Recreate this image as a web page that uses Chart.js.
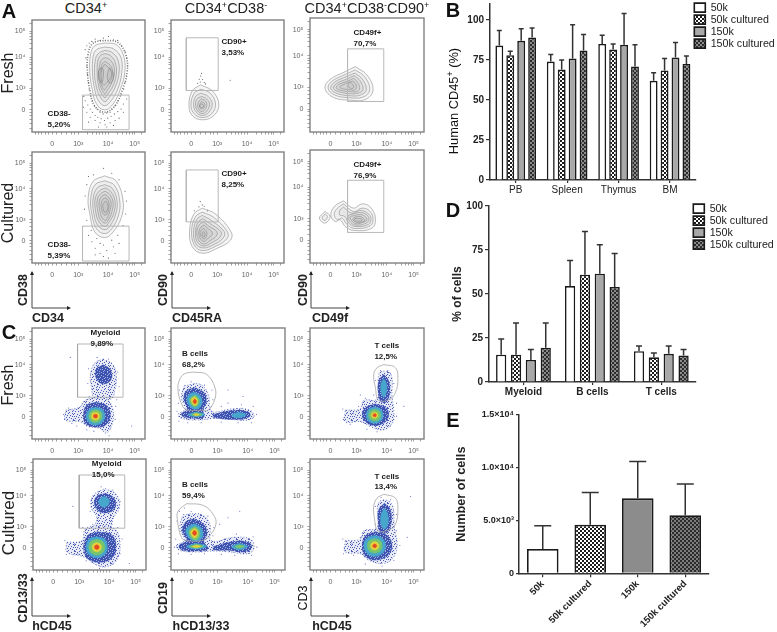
<!DOCTYPE html>
<html>
<head>
<meta charset="utf-8">
<script src="https://cdn.jsdelivr.net/npm/chart.js@4"></script>
<style>
  html, body { margin: 0; background: #fff; }
  body { position: relative; width: 777px; height: 632px; overflow: hidden; font-family: "Liberation Sans", Arial, sans-serif; color: #222; }
  canvas { position: absolute; }
  .t { position: absolute; white-space: nowrap; transform: translate(-50%, -50%); line-height: 1; z-index: 2; }
  .v { transform: translate(-50%, -50%) rotate(-90deg); }
  .letter { font-weight: bold; font-size: 20px; color: #111; }
  .title { font-size: 14.5px; }
  .row { font-size: 16px; }
  .ax { font-weight: bold; font-size: 12.5px; }
  sup { font-size: 9px; line-height: 0; vertical-align: 5px; }
  svg { position: absolute; left: 0; top: 0; }
</style>
</head>
<body>
<svg width="777" height="632" id="arrows"></svg>

<div class="t letter" style="left:9px;top:11px">A</div>
<div class="t letter" style="left:9px;top:332px">C</div>
<div class="t letter" style="left:453px;top:10px">B</div>
<div class="t letter" style="left:453px;top:210px">D</div>
<div class="t letter" style="left:453px;top:420px">E</div>

<div class="t title" style="left:86px;top:8px">CD34<sup>+</sup></div>
<div class="t title" style="left:226px;top:8px">CD34<sup>+</sup>CD38<sup>-</sup></div>
<div class="t title" style="left:367px;top:8px">CD34<sup>+</sup>CD38<sup>-</sup>CD90<sup>+</sup></div>

<div class="t v row" style="left:8px;top:73px">Fresh</div>
<div class="t v row" style="left:8px;top:213px">Cultured</div>
<div class="t v row" style="left:8px;top:385px">Fresh</div>
<div class="t v row" style="left:8px;top:523px;font-size:17px">Cultured</div>

<div class="t v ax" style="left:23px;top:290px">CD38</div>
<div class="t v ax" style="left:163px;top:290px">CD90</div>
<div class="t v ax" style="left:303px;top:290px">CD90</div>
<div class="t ax" style="left:48px;top:318px">CD34</div>
<div class="t ax" style="left:197px;top:318px">CD45RA</div>
<div class="t ax" style="left:330px;top:318px">CD49f</div>

<div class="t v ax" style="left:23px;top:598px">CD13/33</div>
<div class="t v ax" style="left:163px;top:598px">CD19</div>
<div class="t v ax" style="left:303px;top:598px;color:#111;font-weight:normal">CD3</div>
<div class="t ax" style="left:52px;top:626px">hCD45</div>
<div class="t ax" style="left:201px;top:626px">hCD13/33</div>
<div class="t ax" style="left:332px;top:626px">hCD45</div>

<div class="t v" style="left:454px;top:101px;font-size:12.8px;color:#111">Human CD45<sup>+</sup> (%)</div>

<script>
// ---- bar chart data ----
const seriesNames = ['50k', '50k cultured', '150k', '150k cultured'];

const organs = ['PB', 'Spleen', 'Thymus', 'BM'];
const organ50k = [84, 74, 85, 62];
const organ50kCultured = [78, 69, 81.5, 68.5];
const organ150k = [87, 76, 84.5, 76.5];
const organ150kCultured = [89, 81, 71, 72.5];
const organ50kTop = [93.5, 78.5, 90.5, 67];
const organ50kCulturedTop = [80.5, 75, 85, 76];
const organ150kTop = [94.5, 97, 104, 86];
const organ150kCulturedTop = [95, 91, 84.5, 77.5];

const lineages = ['Myeloid', 'B cells', 'T cells'];
const lineage50k = [15.5, 54.5, 17.5];
const lineage50kCultured = [15.5, 61, 14];
const lineage150k = [12.5, 61.5, 16];
const lineage150kCultured = [19.5, 54, 15];
const lineage50kTop = [24.5, 69, 20.5];
const lineage50kCulturedTop = [33.5, 85.5, 16.5];
const lineage150kTop = [18.5, 78, 20.5];
const lineage150kCulturedTop = [33.5, 73, 18.5];

const cellCounts = [2300, 4600, 7100, 5500];
const cellCountTops = [4500, 7650, 10600, 8450];
const cellTickValues = [0, 5000, 10000, 15000];
const cellTickLabels = ['0', '5.0×10³', '1.0×10⁴', '1.5×10⁴'];

// ---- flow axes, in display channels (0-340 on both axes) ----
const flowTickLabels = ['0', '10³', '10⁴', '10⁵'];
const flowXTicks = [61, 139, 229, 309];
const flowYTicks = [68, 133, 227, 305];
const flowXMinor = [10, 20, 30, 40, 50, 75, 90, 105, 118, 128, 166, 182, 194, 204, 212, 220, 256, 272, 284, 294, 302, 330];
const flowYMinor = [12, 25, 38, 50, 60, 85, 100, 112, 125, 160, 178, 192, 204, 212, 220, 254, 270, 282, 291, 299, 330];

// ---- gates ----
const gateA1 = [[152, 7], [292, 7], [292, 112], [152, 112]];
const gateA2 = [[46, 126], [142, 126], [142, 286], [46, 286]];
const gateA3 = [[112, 91], [220, 91], [220, 248], [112, 248]];
const gateA4 = [[152, 6], [292, 6], [292, 113], [152, 113]];
const gateA5 = [[46, 126], [142, 126], [142, 285], [46, 285]];
const gateA6 = [[112, 92], [220, 92], [220, 249], [112, 249]];
const gateC1 = [[137, 128], [274, 128], [274, 291], [137, 291]];
const gateC2 = [[66, 205], [106, 198], [131, 158], [131, 123], [111, 88], [91, 88], [51, 88], [36, 98], [21, 148], [26, 183], [41, 200]];
const gateC3 = [[220, 228], [255, 218], [262, 178], [255, 143], [240, 123], [205, 118], [195, 158], [190, 198], [200, 218]];
const gateC4 = [[139, 128], [276, 128], [276, 291], [139, 291]];
const gateC5 = [[46, 203], [96, 198], [126, 170], [134, 140], [111, 100], [91, 90], [46, 90], [31, 100], [19, 155], [21, 180]];
const gateC6 = [[220, 232], [255, 220], [262, 180], [255, 140], [240, 125], [203, 120], [192, 160], [190, 195], [200, 220]];

// gate label: name, percent, x, y of the name, y of the percent
const labelA1 = ['CD38-', '5,20%', 47, 55, 23];
const labelA2 = ['CD90+', '3,53%', 152, 273, 240];
const labelA3 = ['CD49f+', '70,7%', 130, 295, 263];
const labelA4 = ['CD38-', '5,39%', 47, 55, 23];
const labelA5 = ['CD90+', '8,25%', 152, 273, 240];
const labelA6 = ['CD49f+', '76,9%', 130, 295, 263];
const labelC1 = ['Myeloid', '9,89%', 176, 325, 292];
const labelC2 = ['B cells', '68,2%', 33, 261, 228];
const labelC3 = ['T cells', '12,5%', 192, 286, 253];
const labelC4 = ['Myeloid', '15,0%', 177, 325, 292];
const labelC5 = ['B cells', '59,4%', 33, 260, 227];
const labelC6 = ['T cells', '13,4%', 192, 287, 254];

// ---- contour rings ----
const contoursA1 = [
  [[219, 270], [254, 265], [276, 230], [279, 180], [266, 130], [244, 85], [219, 67], [194, 85], [181, 130], [174, 180], [176, 235], [189, 262]],
  [[219, 258], [246, 252], [268, 225], [270, 180], [258, 130], [238, 95], [219, 80], [200, 95], [188, 132], [182, 180], [184, 230], [194, 250]],
  [[220, 248], [240, 242], [258, 220], [262, 180], [250, 135], [232, 105], [219, 92], [206, 105], [194, 135], [188, 180], [192, 225], [202, 240]],
  [[220, 238], [236, 232], [250, 212], [254, 178], [244, 140], [228, 115], [219, 104], [210, 115], [200, 140], [196, 178], [198, 215], [206, 232]],
  [[220, 226], [234, 220], [246, 200], [248, 176], [238, 145], [226, 125], [219, 116], [212, 125], [204, 145], [200, 176], [204, 205], [210, 220]],
  [[220, 214], [232, 206], [242, 190], [242, 172], [234, 150], [224, 135], [218, 128], [212, 135], [206, 152], [204, 174], [208, 195], [212, 208]],
  [[218, 205], [226, 200], [238, 184], [238, 168], [230, 156], [222, 146], [216, 142], [210, 152], [208, 172], [210, 190]],
  [[234, 195], [244, 178], [244, 160], [236, 148], [228, 158], [228, 180]],
  [[206, 195], [214, 190], [214, 165], [210, 150], [202, 160], [200, 182]]
];
const rimA1 = [[219, 278], [258, 272], [283, 232], [286, 180], [272, 128], [250, 80], [219, 60], [188, 80], [174, 128], [167, 180], [169, 238], [184, 270]];
const dotsA1 = [
  [165, 262], [172, 270], [180, 275], [190, 282], [205, 278], [215, 285], [230, 290], [245, 280], [258, 278], [270, 262],
  [280, 245], [285, 225], [288, 200], [284, 170], [280, 150], [276, 130], [268, 112], [258, 95], [250, 80], [240, 70],
  [160, 250], [162, 225], [165, 200], [167, 175], [170, 150], [172, 128], [176, 110], [182, 95], [188, 78], [196, 70],
  [205, 60], [214, 55], [225, 58], [235, 60], [160, 95], [168, 82], [175, 70], [182, 60], [190, 50], [198, 45],
  [208, 40], [218, 35], [228, 42], [238, 48], [248, 55], [258, 62], [268, 70], [275, 60], [262, 42], [250, 35],
  [235, 28], [220, 22], [205, 28], [190, 35], [175, 45], [165, 60], [155, 75], [200, 15], [225, 15], [245, 20],
  [170, 30], [275, 85], [285, 100], [156, 108]
];

const contoursA2 = [
  [[89, 143], [124, 125], [144, 85], [129, 50], [94, 37], [64, 50], [54, 80], [64, 125]],
  [[90, 130], [118, 118], [134, 85], [122, 55], [94, 44], [70, 55], [60, 82], [70, 118]],
  [[90, 118], [112, 108], [124, 85], [114, 60], [94, 50], [76, 60], [68, 82], [74, 108]],
  [[92, 108], [108, 100], [116, 84], [108, 64], [94, 56], [80, 64], [74, 82], [78, 100]],
  [[92, 100], [104, 94], [108, 82], [102, 68], [92, 62], [84, 68], [80, 82], [84, 94]],
  [[92, 92], [100, 88], [102, 80], [98, 72], [92, 70], [88, 72], [86, 80], [88, 88]],
  [[90, 85], [96, 84], [98, 78], [94, 74], [88, 76], [86, 80]]
];
const dotsA2 = [[89, 170], [95, 160], [88, 152], [100, 150], [92, 178], [85, 160], [178, 157], [80, 148], [104, 146]];

const contoursA3 = [
  [[135, 195], [170, 170], [188, 125], [165, 97], [120, 95], [70, 103], [45, 130], [60, 157], [105, 180]],
  [[135, 185], [163, 165], [178, 125], [158, 104], [120, 102], [74, 110], [54, 130], [66, 152], [106, 172]],
  [[134, 176], [156, 158], [168, 126], [150, 110], [120, 108], [80, 115], [62, 130], [72, 148], [108, 165]],
  [[132, 168], [150, 152], [158, 126], [144, 116], [120, 114], [86, 120], [70, 130], [78, 144], [110, 158]],
  [[130, 160], [142, 148], [148, 128], [138, 120], [122, 120], [92, 124], [78, 132], [86, 142], [112, 152]],
  [[128, 152], [136, 144], [138, 130], [130, 124], [120, 126], [100, 128], [88, 134], [96, 140], [114, 148]],
  [[120, 148], [128, 142], [130, 132], [122, 130], [114, 136], [114, 144]]
];

const contoursA4 = [
  [[219, 267], [254, 250], [274, 190], [269, 140], [244, 95], [219, 78], [189, 95], [174, 150], [169, 200], [184, 250]],
  [[219, 252], [248, 238], [264, 190], [260, 145], [240, 105], [219, 90], [194, 105], [180, 150], [177, 200], [190, 240]],
  [[219, 240], [242, 228], [256, 190], [252, 150], [236, 115], [220, 102], [198, 115], [186, 152], [184, 198], [196, 230]],
  [[220, 230], [238, 218], [250, 188], [246, 152], [232, 125], [220, 112], [202, 125], [192, 155], [190, 196], [202, 220]],
  [[220, 220], [234, 210], [244, 186], [240, 155], [230, 132], [220, 122], [206, 132], [198, 158], [196, 192], [206, 212]],
  [[220, 210], [232, 200], [238, 182], [234, 158], [228, 140], [220, 130], [210, 140], [204, 160], [202, 188], [210, 204]],
  [[222, 200], [230, 190], [232, 176], [230, 160], [224, 148], [216, 148], [210, 162], [208, 182], [214, 196]],
  [[222, 190], [228, 180], [228, 168], [224, 156], [218, 156], [214, 168], [214, 180]]
];
const dotsA4 = [
  [170, 265], [185, 270], [215, 290], [240, 275], [262, 255], [280, 220], [284, 190], [282, 150], [274, 115], [258, 85],
  [240, 70], [215, 55], [195, 75], [178, 100], [165, 130], [158, 165], [160, 205], [165, 240], [205, 30], [225, 38],
  [190, 45], [245, 50], [230, 15], [205, 60], [180, 65], [170, 85], [262, 60], [250, 30], [215, 20], [190, 25]
];

const contoursA5 = [
  [[94, 168], [134, 150], [181, 95], [179, 70], [139, 45], [94, 30], [64, 50], [56, 100], [69, 150]],
  [[94, 156], [128, 140], [170, 95], [168, 74], [136, 52], [94, 38], [70, 55], [62, 100], [74, 142]],
  [[94, 146], [122, 130], [160, 96], [158, 78], [132, 58], [96, 46], [74, 60], [68, 100], [78, 134]],
  [[96, 136], [116, 122], [150, 96], [148, 80], [126, 64], [98, 52], [78, 66], [74, 100], [82, 126]],
  [[98, 126], [112, 114], [138, 96], [136, 82], [120, 70], [98, 58], [82, 72], [78, 100], [86, 118]],
  [[100, 116], [108, 108], [124, 94], [122, 84], [112, 76], [98, 66], [86, 78], [84, 98], [90, 110]],
  [[98, 106], [106, 98], [108, 86], [100, 74], [90, 82], [88, 96]],
  [[98, 96], [102, 90], [100, 80], [94, 84], [94, 92]]
];
const dotsA5 = [[88, 188], [94, 178], [84, 172], [100, 174], [70, 160], [110, 160]];

const contoursA6 = [
  [[100, 187], [130, 165], [155, 178], [180, 168], [195, 135], [185, 105], [130, 98], [105, 110], [90, 130], [75, 125], [62, 145], [75, 172]],
  [[45, 155], [60, 140], [45, 120], [28, 135]],
  [[45, 148], [52, 140], [45, 128], [36, 135]],
  [[100, 178], [130, 155], [155, 165], [176, 158], [188, 135], [180, 112], [132, 104], [110, 116], [96, 135], [82, 130], [72, 146], [82, 165]],
  [[100, 168], [125, 150], [150, 158], [172, 150], [182, 134], [174, 116], [134, 110], [114, 122], [104, 140], [88, 145], [90, 160]],
  [[130, 148], [150, 152], [168, 146], [176, 132], [168, 120], [136, 114], [118, 126], [114, 142]],
  [[130, 142], [150, 146], [164, 140], [170, 130], [162, 124], [138, 118], [122, 130], [120, 140]],
  [[132, 138], [150, 140], [160, 134], [164, 128], [156, 124], [140, 122], [128, 130]],
  [[134, 134], [150, 134], [156, 130], [150, 126], [140, 126], [132, 130]]
];

// ---- pseudocolour density regions, one list of rings per density level ----
const densityC1 = [
  [[[101, 88], [144, 98], [159, 118], [194, 126], [229, 118], [244, 88], [242, 48], [224, 18], [204, 33], [169, 38], [144, 53], [101, 58]],
   [[214, 245], [244, 228], [254, 188], [249, 148], [239, 123], [189, 123], [179, 158], [176, 198], [189, 233]]],
  [[[192, 113], [224, 103], [236, 73], [222, 43], [194, 36], [162, 46], [154, 73], [164, 103]],
   [[214, 228], [236, 213], [239, 183], [216, 168], [194, 183], [192, 213]]],
  [[[191, 97], [212, 90], [219, 70], [210, 50], [191, 43], [172, 50], [163, 70], [172, 90]]],
  [[[191, 90], [206, 84], [211, 70], [205, 56], [191, 50], [177, 56], [171, 70], [177, 84]]],
  [[[191, 82], [200, 79], [203, 70], [200, 61], [191, 58], [182, 61], [179, 70], [182, 79]]],
  [[[191, 76], [196, 74], [197, 70], [196, 66], [191, 64], [186, 66], [185, 70], [186, 74]]]
];
const densityC2 = [
  [[[39, 163], [86, 168], [111, 138], [116, 98], [126, 83], [186, 93], [236, 88], [248, 70], [231, 58], [176, 60], [126, 63], [86, 58], [31, 63], [21, 76], [41, 90], [31, 128]]],
  [[[71, 158], [98, 143], [106, 113], [96, 90], [98, 66], [71, 63], [36, 68], [31, 78], [48, 90], [38, 123], [46, 148]],
   [[126, 76], [186, 88], [231, 83], [236, 70], [206, 60], [126, 66]]],
  [[[71, 143], [89, 130], [91, 106], [76, 91], [56, 100], [48, 123], [56, 138]],
   [[76, 83], [101, 76], [76, 68], [51, 75]],
   [[201, 83], [224, 75], [201, 65], [181, 73]]],
  [[[71, 135], [83, 123], [83, 108], [71, 98], [59, 108], [56, 123]],
   [[76, 80], [93, 75], [76, 70], [61, 75]]],
  [[[71, 130], [79, 120], [78, 108], [71, 103], [63, 110], [61, 122]],
   [[76, 78], [84, 75], [76, 72], [68, 75]]],
  [[[70, 123], [76, 116], [72, 108], [66, 114]]]
];
const densityC3 = [
  [[[105, 88], [150, 93], [160, 118], [200, 123], [205, 198], [220, 208], [242, 198], [245, 128], [250, 88], [248, 53], [220, 28], [180, 38], [150, 53], [105, 53]]],
  [[[195, 108], [225, 98], [235, 73], [220, 48], [190, 41], [165, 53], [155, 75], [168, 98]],
   [[220, 198], [235, 178], [238, 143], [228, 113], [212, 113], [203, 143], [205, 178]]],
  [[[193, 98], [211, 91], [218, 73], [211, 55], [193, 48], [175, 55], [168, 73], [175, 91]],
   [[220, 185], [228, 170], [228, 145], [220, 128], [212, 145], [212, 170]]],
  [[[193, 91], [206, 86], [211, 73], [206, 60], [193, 55], [180, 60], [175, 73], [180, 86]]],
  [[[193, 83], [200, 80], [203, 73], [200, 66], [193, 63], [186, 66], [183, 73], [186, 80]]],
  [[[193, 78], [197, 76], [198, 73], [197, 70], [193, 68], [189, 70], [188, 73], [189, 76]]]
];
const densityC4 = [
  [[[102, 85], [147, 90], [157, 125], [192, 135], [247, 125], [262, 80], [252, 30], [222, 10], [192, 15], [152, 40], [102, 55]],
   [[217, 250], [252, 230], [260, 190], [242, 160], [232, 130], [187, 130], [192, 160], [174, 195], [182, 230]]],
  [[[194, 118], [237, 108], [250, 70], [237, 35], [197, 23], [164, 35], [152, 68], [164, 105]],
   [[220, 235], [244, 220], [247, 190], [224, 175], [197, 180], [184, 205], [194, 228]]],
  [[[192, 102], [215, 95], [224, 70], [215, 47], [192, 38], [169, 47], [160, 70], [169, 95]],
   [[218, 225], [230, 213], [222, 195], [205, 195], [198, 210], [206, 222]]],
  [[[192, 94], [209, 88], [216, 70], [209, 53], [192, 46], [175, 53], [168, 70], [175, 88]]],
  [[[192, 84], [202, 80], [206, 70], [202, 60], [192, 56], [182, 60], [178, 70], [182, 80]]],
  [[[192, 77], [197, 75], [199, 70], [197, 65], [192, 63], [187, 65], [185, 70], [187, 75]]]
];
const densityC5 = [
  [[[36, 170], [91, 170], [116, 140], [121, 90], [186, 100], [236, 95], [248, 70], [231, 50], [176, 55], [126, 58], [76, 55], [26, 60], [16, 75], [39, 90], [26, 130]]],
  [[[69, 158], [98, 140], [108, 110], [98, 88], [111, 65], [76, 58], [31, 62], [24, 75], [46, 90], [33, 120], [44, 148]],
   [[126, 72], [186, 88], [231, 85], [241, 70], [221, 55], [176, 60], [126, 62]]],
  [[[71, 142], [91, 128], [94, 102], [76, 88], [54, 98], [44, 120], [54, 135]],
   [[76, 82], [106, 73], [76, 64], [46, 72]],
   [[204, 82], [228, 72], [204, 62], [181, 72]]],
  [[[71, 134], [84, 122], [84, 100], [71, 92], [58, 102], [54, 120]],
   [[76, 79], [96, 73], [76, 67], [56, 72]],
   [[204, 77], [218, 72], [204, 67], [191, 72]]],
  [[[71, 128], [80, 118], [78, 104], [71, 98], [62, 106], [59, 118]],
   [[76, 76], [88, 73], [76, 69], [64, 72]]],
  [[[69, 122], [76, 116], [72, 106], [64, 112]]]
];
const densityC6 = [
  [[[105, 90], [150, 95], [160, 120], [200, 130], [202, 200], [220, 215], [245, 200], [252, 130], [260, 80], [250, 40], [220, 20], [175, 30], [150, 50], [105, 55]]],
  [[[195, 118], [232, 105], [245, 72], [230, 42], [192, 30], [165, 42], [155, 72], [165, 105]],
   [[222, 205], [240, 185], [242, 140], [230, 115], [210, 115], [203, 145], [205, 185]]],
  [[[193, 106], [216, 97], [225, 74], [216, 51], [193, 42], [170, 51], [161, 74], [170, 97]],
   [[222, 190], [232, 170], [232, 140], [222, 125], [212, 140], [212, 170]]],
  [[[193, 96], [209, 90], [215, 74], [209, 58], [193, 52], [177, 58], [171, 74], [177, 90]]],
  [[[193, 87], [202, 83], [206, 74], [202, 65], [193, 61], [184, 65], [180, 74], [184, 83]]],
  [[[193, 80], [197, 78], [199, 74], [197, 70], [193, 68], [189, 70], [187, 74], [189, 78]]]
];

// single events scattered outside the dense regions
const strayC1 = [[95, 75], [110, 95], [98, 60], [120, 48], [135, 40], [165, 28], [186, 24], [232, 10], [250, 60], [252, 100], [255, 120], [172, 130], [168, 170], [170, 215], [196, 250], [230, 245], [258, 205], [262, 160], [115, 250], [300, 40]];
const strayC2 = [[25, 150], [22, 110], [18, 85], [24, 55], [50, 50], [90, 50], [120, 100], [125, 120], [122, 150], [100, 165], [60, 175], [150, 100], [170, 110], [210, 105], [245, 100], [255, 75], [240, 50], [200, 50], [150, 52], [170, 150], [215, 130]];
const strayC3 = [[98, 92], [100, 60], [120, 45], [145, 100], [165, 125], [190, 135], [195, 180], [210, 210], [232, 210], [250, 170], [258, 110], [258, 70], [240, 40], [200, 22], [170, 30], [280, 100], [150, 135], [130, 80]];
const strayC4 = [[96, 90], [100, 48], [125, 80], [135, 50], [160, 28], [200, 5], [240, 18], [262, 50], [268, 95], [255, 130], [180, 140], [172, 180], [176, 215], [205, 255], [240, 245], [262, 210], [120, 195], [290, 20], [150, 130]];
const strayC5 = [[25, 180], [18, 150], [14, 95], [10, 70], [22, 50], [60, 48], [100, 50], [125, 105], [128, 130], [110, 165], [60, 180], [40, 190], [160, 95], [195, 110], [245, 102], [256, 70], [240, 45], [190, 45], [150, 48], [170, 160], [145, 140], [205, 180]];
const strayC6 = [[98, 95], [100, 50], [125, 82], [130, 45], [165, 18], [215, 12], [250, 30], [268, 75], [258, 120], [195, 140], [195, 195], [212, 222], [240, 215], [258, 170], [150, 100], [290, 100], [300, 225]];

const densityColors = ['#ffffff', '#3a4ead', '#46a6cc', '#78c46c', '#e2d23e', '#e64a20'];
// speckle masks: x marks an event pixel
const sparseMask = ['x...x......x', '..x.....x...', '......x....x', '.x..x.....x.', '.......x....', 'x.....x...x.', '...x.......x', '.....x..x...', 'x.x.......x.', '....x..x....', '.x.......x..', '.....x.....x'];
const denseMask = ['xxx.xxxxx.xx', 'x.xxx.xxxxx.', 'xxxxxxx.xx.x', '.xx.xxxxx.xx', 'xxxxx.xxxxxx', 'xx.xxxx.x.xx', 'x.xxxx.xxxx.', 'xxxx.xxxxx.x', '.xxxxxx.xxxx', 'xx.x.xxxx.xx', 'xxxxxx.xxxx.', 'x.xxx.xxx.xx'];

// ---- helpers ----
function addCanvas(left, top, width, height) {
  const c = document.createElement('canvas');
  c.width = width;
  c.height = height;
  c.style.left = left + 'px';
  c.style.top = top + 'px';
  c.style.width = width + 'px';
  c.style.height = height + 'px';
  document.body.appendChild(c);
  return c;
}

function checker(a, b) {
  const p = document.createElement('canvas');
  p.width = p.height = 4;
  const g = p.getContext('2d');
  g.fillStyle = a;
  g.fillRect(0, 0, 4, 4);
  g.fillStyle = b;
  g.fillRect(0, 0, 2, 2);
  g.fillRect(2, 2, 2, 2);
  return g.createPattern(p, 'repeat');
}

function speckle(mask, ink, paper) {
  const p = document.createElement('canvas');
  p.width = p.height = mask.length;
  const g = p.getContext('2d');
  g.fillStyle = paper;
  g.fillRect(0, 0, mask.length, mask.length);
  g.fillStyle = ink;
  mask.forEach((row, y) => row.split('').forEach((ch, x) => {
    if (ch === 'x') g.fillRect(x, y, 1, 1);
  }));
  return g.createPattern(p, 'repeat');
}

const sparseFill = speckle(sparseMask, '#4a5cb4', '#e8ebf7');
const denseFill = speckle(denseMask, '#3e52b0', '#a3b0e2');

function closed(ring) {
  return ring.concat([ring[0]]);
}

function lineSet(ring, color, width, extra) {
  return Object.assign({
    data: closed(ring),
    showLine: true,
    pointRadius: 0,
    borderColor: color,
    borderWidth: width,
    tension: 0.4,
    fill: false
  }, extra);
}

// the plot box is set by hand, tick labels must not shrink it
function noLabelPadding(s) {
  s.paddingTop = 0;
  s.paddingBottom = 0;
  s.paddingLeft = 0;
  s.paddingRight = 0;
}

// frame and gate labels of a flow panel
const flowDecor = {
  id: 'flowDecor',
  afterDatasetsDraw(chart, args, opts) {
    const { ctx, chartArea: a, scales } = chart;
    ctx.save();
    ctx.strokeStyle = '#808080';
    ctx.lineWidth = 1.4;
    ctx.strokeRect(a.left, a.top, a.right - a.left, a.bottom - a.top);
    ctx.fillStyle = '#1a1a1a';
    ctx.font = 'bold 8px "Liberation Sans"';
    ctx.textBaseline = 'middle';
    const [name, pct, x, y1, y2] = opts.label;
    ctx.fillText(name, scales.x.getPixelForValue(x), scales.y.getPixelForValue(y1));
    ctx.fillText(pct, scales.x.getPixelForValue(x), scales.y.getPixelForValue(y2));
    ctx.restore();
  }
};

function flowAxis(major, minor, side) {
  return {
    type: 'linear',
    min: 0,
    max: 340,
    afterBuildTicks(s) {
      s.ticks = major.concat(minor).sort((a, b) => a - b).map(v => ({ value: v }));
    },
    afterFit(s) {
      if (side === 'x') s.height = 22;
      else s.width = 30;
      noLabelPadding(s);
    },
    border: { display: false },
    grid: { drawOnChartArea: false, tickLength: 2.5, color: '#777', lineWidth: 0.7 },
    ticks: {
      autoSkip: false,
      maxRotation: 0,
      padding: side === 'x' ? 5 : 4,
      color: '#666',
      font: { family: 'Liberation Sans', size: 7 },
      callback(v) {
        const i = major.indexOf(v);
        return i < 0 ? '' : flowTickLabels[i];
      }
    }
  };
}

function flowChart(frame, datasets, label) {
  const c = addCanvas(frame[0] - 30, frame[1] - 2, frame[2] + 34, frame[3] + 24);
  new Chart(c, {
    type: 'scatter',
    data: { datasets },
    options: {
      responsive: false,
      animation: false,
      events: [],
      layout: { padding: { top: 2, right: 4 } },
      scales: { x: flowAxis(flowXTicks, flowXMinor, 'x'), y: flowAxis(flowYTicks, flowYMinor, 'y') },
      plugins: { legend: { display: false }, tooltip: { enabled: false }, flowDecor: { label } }
    },
    plugins: [flowDecor]
  });
}

function contourPanel(frame, rings, gate, label, dots, rim) {
  const sets = [lineSet(gate, '#b8b8b8', 1, { tension: 0 })];
  rings.forEach(r => sets.push(lineSet(r, 'rgba(85,85,85,0.72)', 0.55, {
    fill: 'shape', backgroundColor: 'rgba(130,130,130,0.07)'
  })));
  if (rim) sets.push(lineSet(rim, 'rgba(60,60,60,0.7)', 1.6, { borderDash: [1, 1.6] }));
  if (dots) sets.push({ data: dots, pointRadius: 0.55, pointBorderWidth: 0, backgroundColor: '#555' });
  flowChart(frame, sets, label);
}

function densityPanel(frame, levels, gate, label, gateBend, stray) {
  const sets = [lineSet(gate, '#a4a4a4', 0.8, { tension: gateBend })];
  sets.push({ data: stray, pointRadius: 0.55, pointBorderWidth: 0, backgroundColor: '#5566bb' });
  for (let lv = levels.length - 1; lv >= 0; lv--) {
    levels[lv].forEach(r => {
      const isBase = lv === 0;
      const isDense = lv === 1;
      sets.push(lineSet(r, isBase ? 'rgba(70,88,180,0.7)' : (isDense ? 'rgba(60,78,170,0.45)' : densityColors[lv]), isBase ? 1 : 0.5, {
        fill: 'shape',
        backgroundColor: isBase ? sparseFill : (isDense ? denseFill : densityColors[lv]),
        borderDash: isBase ? [1, 2] : []
      }));
    });
  }
  flowChart(frame, sets, label);
}

// mean bars with an upper whisker only
const whiskers = {
  id: 'whiskers',
  afterDatasetsDraw(chart, args, opts) {
    const { ctx, scales } = chart;
    ctx.save();
    ctx.strokeStyle = '#333';
    ctx.lineWidth = opts.lineWidth;
    chart.data.datasets.forEach((ds, d) => {
      chart.getDatasetMeta(d).data.forEach((bar, i) => {
        const top = scales.y.getPixelForValue(ds.tops[i]);
        ctx.beginPath();
        ctx.moveTo(bar.x, bar.y);
        ctx.lineTo(bar.x, top);
        ctx.moveTo(bar.x - opts.cap / 2, top);
        ctx.lineTo(bar.x + opts.cap / 2, top);
        ctx.stroke();
      });
    });
    ctx.restore();
  }
};

// the legend sits beside the plot, a little higher than the axis top
const moveLegend = {
  id: 'moveLegend',
  afterLayout(chart, args, opts) {
    if (chart.legend && opts.left !== undefined) {
      chart.legend.left = opts.left;
      chart.legend.top = opts.top;
    }
  }
};

const fills = [
  '#ffffff',
  checker('#ffffff', '#1c1c1c'),
  '#a8a8a8',
  checker('#2c2c2c', '#8a8a8a')
];

function barChart(box, cats, values, tops, o) {
  const c = addCanvas(box[0], box[1], box[2], box[3]);
  new Chart(c, {
    type: 'bar',
    data: {
      labels: cats,
      datasets: seriesNames.map((name, i) => ({
        label: name,
        data: values[i],
        tops: tops[i],
        backgroundColor: fills[i],
        borderColor: '#1a1a1a',
        borderWidth: 1.6,
        categoryPercentage: o.cat,
        barPercentage: o.bar
      }))
    },
    options: {
      responsive: false,
      animation: false,
      events: [],
      layout: { padding: { top: o.top, right: 2 } },
      scales: {
        x: {
          afterFit(s) { s.height = o.xHeight; noLabelPadding(s); },
          border: { color: '#333', width: 1.5 },
          grid: { drawOnChartArea: false, offset: false, tickLength: 3, color: '#333', lineWidth: 1.2 },
          ticks: { color: '#222', padding: 1, font: { family: 'Liberation Sans', size: 10, weight: o.catWeight } }
        },
        y: {
          min: 0,
          max: o.max,
          afterFit(s) { s.width = o.axisLeft; noLabelPadding(s); },
          border: { color: '#333', width: 1.5 },
          grid: { drawOnChartArea: false, tickLength: 4, color: '#333', lineWidth: 1.2 },
          ticks: { stepSize: 25, includeBounds: false, color: '#222', padding: 2, font: { family: 'Liberation Sans', size: 10, weight: 'bold' } },
          title: {
            display: !!o.yTitle,
            text: o.yTitle,
            color: '#222',
            padding: { top: o.titlePad, bottom: 0 },
            font: { family: 'Liberation Sans', size: o.titleSize, weight: o.titleWeight }
          }
        }
      },
      plugins: {
        tooltip: { enabled: false },
        whiskers: { lineWidth: 1.5, cap: o.cap },
        moveLegend: { left: o.legendLeft, top: o.legendTop },
        legend: {
          position: 'right',
          align: 'start',
          labels: {
            boxWidth: 11,
            boxHeight: 9,
            padding: 1.3,
            color: '#222',
            font: { family: 'Liberation Sans', size: 10.7 }
          }
        }
      }
    },
    plugins: [whiskers, moveLegend]
  });
}

// ---- panels A ----
contourPanel([32, 18, 113, 114], contoursA1, gateA1, labelA1, dotsA1, rimA1);
contourPanel([171, 18, 113, 114], contoursA2, gateA2, labelA2, dotsA2);
contourPanel([310, 18, 114, 114], contoursA3, gateA3, labelA3);
contourPanel([32, 150, 113, 113], contoursA4, gateA4, labelA4, dotsA4);
contourPanel([171, 150, 113, 113], contoursA5, gateA5, labelA5, dotsA5);
contourPanel([310, 150, 114, 113], contoursA6, gateA6, labelA6);

// ---- panels C ----
densityPanel([32, 326, 113, 113], densityC1, gateC1, labelC1, 0, strayC1);
densityPanel([171, 326, 114, 113], densityC2, gateC2, labelC2, 0.4, strayC2);
densityPanel([310, 326, 114, 113], densityC3, gateC3, labelC3, 0.4, strayC3);
densityPanel([33, 457, 113, 113], densityC4, gateC4, labelC4, 0, strayC4);
densityPanel([171, 457, 114, 113], densityC5, gateC5, labelC5, 0.4, strayC5);
densityPanel([310, 457, 114, 113], densityC6, gateC6, labelC6, 0.4, strayC6);

// ---- panel B ----
barChart([440, 0, 343, 198], organs,
  [organ50k, organ50kCultured, organ150k, organ150kCultured],
  [organ50kTop, organ50kCulturedTop, organ150kTop, organ150kCulturedTop],
  { cat: 0.85, bar: 0.72, max: 110, top: 4, xHeight: 18, axisLeft: 50, cap: 5, yTitle: '',
    catWeight: 'normal', legendLeft: 253, legendTop: 1 });

// ---- panel D ----
barChart([440, 200, 343, 200], lineages,
  [lineage50k, lineage50kCultured, lineage150k, lineage150kCultured],
  [lineage50kTop, lineage50kCulturedTop, lineage150kTop, lineage150kCulturedTop],
  { cat: 0.862, bar: 0.69, max: 100, top: 6, xHeight: 18, axisLeft: 49, cap: 6, yTitle: '% of cells',
    titleSize: 12, titleWeight: 'bold', titlePad: 10, catWeight: 'bold', legendLeft: 252, legendTop: 2 });

// ---- panel E ----
const cellCanvas = addCanvas(440, 410, 337, 222);
new Chart(cellCanvas, {
  type: 'bar',
  data: {
    labels: seriesNames,
    datasets: [{
      data: cellCounts,
      tops: cellCountTops,
      backgroundColor: ['#ffffff', checker('#ffffff', '#1c1c1c'), '#8c8c8c', checker('#2c2c2c', '#7c7c7c')],
      borderColor: '#1a1a1a',
      borderWidth: 1.8,
      categoryPercentage: 1,
      barPercentage: 0.665
    }]
  },
  options: {
    responsive: false,
    animation: false,
    events: [],
    layout: { padding: { top: 5, right: 68 } },
    scales: {
      x: {
        afterFit(s) { s.height = 58.7; noLabelPadding(s); },
        border: { color: '#333', width: 1.5 },
        grid: { drawOnChartArea: false, offset: false, tickLength: 4, color: '#333', lineWidth: 1.2 },
        ticks: { color: '#222', padding: 1, minRotation: 45, maxRotation: 45, font: { family: 'Liberation Sans', size: 9.5, weight: 'bold' } }
      },
      y: {
        min: 0,
        max: 15000,
        afterBuildTicks(s) { s.ticks = cellTickValues.map(v => ({ value: v })); },
        afterFit(s) { s.width = 79; noLabelPadding(s); },
        border: { color: '#333', width: 1.5 },
        grid: { drawOnChartArea: false, tickLength: 3, color: '#333', lineWidth: 1.2 },
        ticks: {
          color: '#222',
          padding: 2,
          font: { family: 'Liberation Sans', size: 9, weight: 'bold' },
          callback(v) { return cellTickLabels[cellTickValues.indexOf(v)]; }
        },
        title: {
          display: true,
          text: 'Number of cells',
          color: '#222',
          padding: { top: 14, bottom: 0 },
          font: { family: 'Liberation Sans', size: 12.7, weight: 'bold' }
        }
      }
    },
    plugins: { legend: { display: false }, tooltip: { enabled: false }, whiskers: { lineWidth: 1.5, cap: 17 } }
  },
  plugins: [whiskers]
});

// ---- axis arrows under the flow columns ----
let arrowMarkup = '';
[[32, 272, 308], [172, 272, 308], [311, 272, 308], [32, 578, 616], [172, 578, 616], [311, 578, 616]].forEach(a => {
  const [x, y0, y1] = a;
  arrowMarkup += `<path d="M${x} ${y0}V${y1}H${x + 36}" fill="none" stroke="#444" stroke-width="1"/>`;
  arrowMarkup += `<path d="M${x - 2} ${y0 + 3}L${x} ${y0 - 1}L${x + 2} ${y0 + 3}Z M${x + 35} ${y1 - 2}L${x + 39} ${y1}L${x + 35} ${y1 + 2}Z" fill="#222"/>`;
});
document.getElementById('arrows').innerHTML = arrowMarkup;
</script>
</body>
</html>
